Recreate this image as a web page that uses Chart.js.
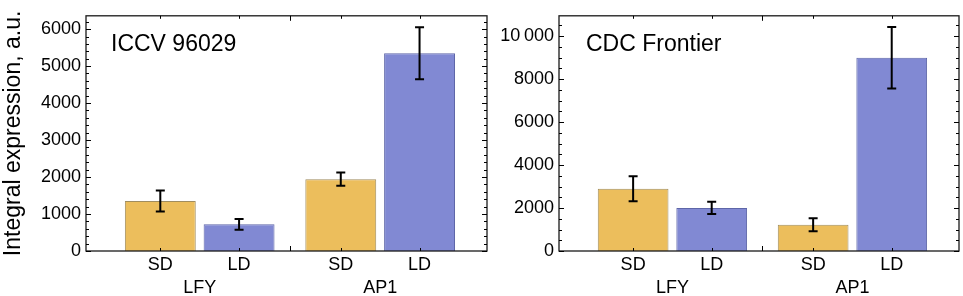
<!DOCTYPE html>
<html><head><meta charset="utf-8">
<script src="https://cdn.jsdelivr.net/npm/chart.js@4"></script>
<style>
html,body{margin:0;padding:0;background:#fff;width:963px;height:296px;overflow:hidden}
canvas{position:absolute;top:0}
#c1{left:0}
#c2{left:490px}
</style></head><body>
<canvas id="c1" width="490" height="296"></canvas>
<canvas id="c2" width="473" height="296"></canvas>
<script>
// ---- data ----
const categories = ['LFY', 'AP1'];
const seriesNames = ['SD', 'LD'];
const leftTitle = 'ICCV 96029';
const rightTitle = 'CDC Frontier';
const yTitle = 'Integral expression, a.u.';

const leftSD = [1352, 1943];
const leftSDErr = [285, 177];
const leftLD = [720, 5347];
const leftLDErr = [146, 703];

const rightSD = [2897, 1223];
const rightSDErr = [580, 305];
const rightLD = [2004, 8995];
const rightLDErr = [285, 1435];

const leftTicks = [0, 1000, 2000, 3000, 4000, 5000, 6000];
const rightTicks = [0, 2000, 4000, 6000, 8000, 10000];
const leftMinorStep = 200;
const rightMinorStep = 500;
const leftMax = 6360;
const rightMax = 10950;

// ---- style ----
const FONT = "'Liberation Sans', Arial, Helvetica, sans-serif";
Chart.defaults.font.family = FONT;
const SD_FILL = '#ECBE5C', SD_EDGE = '#a08d5e';
const LD_FILL = '#8189D3', LD_EDGE = '#5e66a8';
const CAT_PCT = 0.873, BAR_PCT = 0.9;
const X_MIN = 0.37, X_MAX = 2.592;

const errorBars = {
  id: 'errorBars',
  afterDatasetsDraw(chart) {
    const ctx = chart.ctx, y = chart.scales.y;
    ctx.save();
    ctx.strokeStyle = '#000';
    ctx.lineWidth = 2;
    chart.data.datasets.forEach((ds, di) => {
      const meta = chart.getDatasetMeta(di);
      meta.data.forEach((el, i) => {
        const v = ds.data[i].y, e = ds.err[i];
        const yh = y.getPixelForValue(v + e), yl = y.getPixelForValue(v - e);
        const x = el.x, cw = 4.5;
        ctx.beginPath();
        ctx.moveTo(x, yh); ctx.lineTo(x, yl);
        ctx.moveTo(x - cw, yh); ctx.lineTo(x + cw, yh);
        ctx.moveTo(x - cw, yl); ctx.lineTo(x + cw, yl);
        ctx.stroke();
      });
    });
    ctx.restore();
  }
};

const frame = {
  id: 'frame',
  afterDraw(chart, args, opts) {
    const ctx = chart.ctx, a = chart.chartArea, y = chart.scales.y, x = chart.scales.x;
    ctx.save();
    ctx.strokeStyle = '#1a1a1a';
    ctx.lineWidth = 1.3;
    ctx.strokeRect(a.left, a.top, a.right - a.left, a.bottom - a.top);
    ctx.lineWidth = 1;
    ctx.strokeStyle = '#000';
    ctx.beginPath();
    const majors = opts.majors;
    for (let v = 0; v <= y.max + 1e-6; v += opts.minor) {
      const isMajor = majors.some(m => Math.abs(m - v) < 1e-6);
      const len = isMajor ? 5 : 3;
      const py = Math.round(y.getPixelForValue(v)) + 0.5;
      ctx.moveTo(a.left, py); ctx.lineTo(a.left + len, py);
      ctx.moveTo(a.right, py); ctx.lineTo(a.right - len, py);
    }
    chart.data.datasets.forEach((ds, di) => {
      chart.getDatasetMeta(di).data.forEach(el => {
        const px = Math.round(el.x) + 0.5;
        ctx.moveTo(px, a.top); ctx.lineTo(px, a.top + 3);
        ctx.moveTo(px, a.bottom); ctx.lineTo(px, a.bottom - 3);
      });
    });
    for (let i = 1; i < categories.length; i++) {
      const px = Math.round(x.getPixelForValue(i + 0.5)) + 0.5;
      ctx.moveTo(px, a.top); ctx.lineTo(px, a.top + 5);
      ctx.moveTo(px, a.bottom); ctx.lineTo(px, a.bottom - 5);
    }
    ctx.stroke();
    ctx.fillStyle = '#000';
    ctx.font = '23px ' + FONT;
    ctx.textBaseline = 'alphabetic';
    ctx.textAlign = 'left';
    ctx.fillText(opts.title, a.left + opts.titleDx, a.top + 35.5);
    ctx.restore();
  }
};

function makeChart(id, sd, sdErr, ld, ldErr, majors, minor, ymax, title, titleDx, yWidth, showYTitle, padRight) {
  const fmt = v => v >= 10000 ? String(v).replace(/(\d)(\d{3})$/, '$1\u2009$2') : String(v);
  return new Chart(document.getElementById(id), {
    type: 'bar',
    data: {
      datasets: [
        { label: seriesNames[0], data: categories.map((c, i) => ({ x: i + 1, y: sd[i] })), err: sdErr,
          backgroundColor: SD_FILL, borderColor: SD_EDGE, borderWidth: 1,
          categoryPercentage: CAT_PCT, barPercentage: BAR_PCT, xAxisID: 'x' },
        { label: seriesNames[1], data: categories.map((c, i) => ({ x: i + 1, y: ld[i] })), err: ldErr,
          backgroundColor: LD_FILL, borderColor: LD_EDGE, borderWidth: 1,
          categoryPercentage: CAT_PCT, barPercentage: BAR_PCT, xAxisID: 'x' }
      ]
    },
    options: {
      responsive: false,
      animation: false,
      devicePixelRatio: 1,
      layout: { padding: { left: 0, right: padRight, top: 4.5, bottom: 0 } },
      plugins: {
        legend: { display: false },
        tooltip: { enabled: false },
        frame: { majors: majors, minor: minor, title: title, titleDx: titleDx }
      },
      scales: {
        x: {
          type: 'linear', min: X_MIN, max: X_MAX, offset: false, position: 'bottom', weight: 1,
          grid: { display: false, drawTicks: false, offset: false }, border: { display: false },
          afterBuildTicks: s => { s.ticks = categories.map((c, i) => ({ value: i + 1 })); },
          ticks: { callback: (v, i) => categories[i], font: { size: 18 }, color: '#000',
                   padding: 2, maxRotation: 0, autoSkip: false },
          afterFit: s => { s.height = 21; }
        },
        xs: {
          type: 'linear', min: X_MIN, max: X_MAX, offset: false, position: 'bottom', weight: 0,
          grid: { display: false, drawTicks: false, offset: false }, border: { display: false },
          afterBuildTicks: s => {
            const t = [];
            categories.forEach((c, i) => seriesNames.forEach((n, j) =>
              t.push({ value: i + 1 + (j - (seriesNames.length - 1) / 2) * CAT_PCT / seriesNames.length })));
            s.ticks = t;
          },
          ticks: { callback: (v, i) => seriesNames[i % seriesNames.length], font: { size: 18 }, color: '#000',
                   padding: 3, maxRotation: 0, autoSkip: false },
          afterFit: s => { s.height = 24; }
        },
        y: {
          type: 'linear', min: 0, max: ymax,
          grid: { display: false, drawTicks: false }, border: { display: false },
          afterBuildTicks: s => { s.ticks = majors.map(v => ({ value: v })); },
          ticks: { callback: v => fmt(v), font: { size: 18 }, color: '#000', padding: 5 },
          title: { display: showYTitle, text: yTitle, font: { size: 23 }, color: '#000', padding: 0 },
          afterFit: s => { s.width = yWidth; }
        }
      }
    },
    plugins: [errorBars, frame]
  });
}

makeChart('c1', leftSD, leftSDErr, leftLD, leftLDErr, leftTicks, leftMinorStep, leftMax,
  leftTitle, 25, 86, true, 3);
makeChart('c2', rightSD, rightSDErr, rightLD, rightLDErr, rightTicks, rightMinorStep, rightMax,
  rightTitle, 27, 69, false, 4);
</script>
</body></html>
